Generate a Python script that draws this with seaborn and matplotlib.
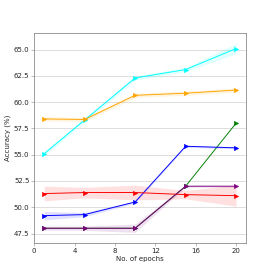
import numpy as np
import pandas as pd
import matplotlib
matplotlib.use("Agg")
import matplotlib.pyplot as plt
import seaborn as sns

epochs = [1, 5, 10, 15, 20]

green = [48.0, 48.0, 48.0, 52.0, 58.0]
green_sd = [0.0, 0.0, 0.0, 0.0, 0.0]
cyan = [55.1, 58.3, 62.3, 63.1, 65.1]
cyan_sd = [0.2, 0.2, 0.2, 0.2, 0.5]
orange = [58.4, 58.35, 60.65, 60.85, 61.15]
orange_sd = [0.2, 0.2, 0.2, 0.2, 0.2]
blue = [49.2, 49.3, 50.5, 55.8, 55.65]
blue_sd = [0.4, 0.2, 0.1, 0.1, 0.1]
red = [51.3, 51.4, 51.4, 51.2, 51.1]
red_sd = [0.7, 0.5, 0.7, 0.4, 1.0]
purple = [48.0, 48.0, 48.0, 52.0, 52.0]
purple_sd = [0.2, 0.2, 0.4, 0.1, 0.1]

series = [
    ("green", green, green_sd),
    ("cyan", cyan, cyan_sd),
    ("orange", orange, orange_sd),
    ("blue", blue, blue_sd),
    ("red", red, red_sd),
    ("purple", purple, purple_sd),
]

if __name__ == "__main__":
    sns.set_style("whitegrid")
    fig = plt.figure(figsize=(6, 6), dpi=45.5)
    ax = plt.gca()
    for color, vals, sd in series:
        df = pd.DataFrame({"epoch": epochs, "acc": vals})
        sns.lineplot(x="epoch", y="acc", data=df, color=color, marker=">",
                     markersize=7, markeredgecolor=color, linewidth=1.5, ax=ax)
        lo = np.array(vals) - np.array(sd)
        hi = np.array(vals) + np.array(sd)
        ax.fill_between(epochs, lo, hi, color=color, alpha=0.12, linewidth=0)

    ax.set_xticks([0, 4, 8, 12, 16, 20])
    ax.set_yticks([47.5, 50.0, 52.5, 55.0, 57.5, 60.0, 62.5, 65.0])
    ax.set_ylim(46.6, 66.6)
    ax.set_xlim(0, 20.95)
    ax.grid(axis="x", visible=False)
    ax.grid(axis="y", color="#dddddd", linewidth=1.5)
    for s in ax.spines.values():
        s.set_color("gray")
        s.set_linewidth(1.2)
    ax.tick_params(axis="both", which="both", length=4, color="gray", labelsize=11,
                   left=True, bottom=True)
    plt.xlabel("No. of epochs", fontsize=11)
    plt.ylabel("Accuracy (%)", fontsize=11)
    plt.savefig("out.png", dpi=45.5)
